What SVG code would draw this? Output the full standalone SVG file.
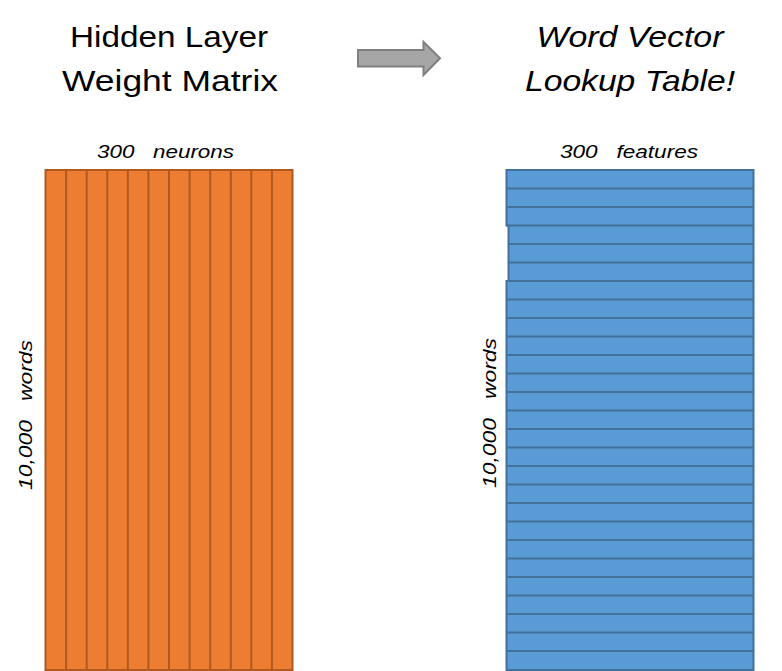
<svg xmlns="http://www.w3.org/2000/svg" width="782" height="671" viewBox="0 0 782 671">
<style>
.title{font-family:"Liberation Sans",Arial,sans-serif;font-size:30px;fill:#000;text-anchor:middle}
.it{font-style:italic}
.lbl{font-family:"Liberation Sans",Arial,sans-serif;font-size:18px;font-style:italic;fill:#000}
.org{fill:#ED7D31;stroke:#AE5A21;stroke-width:2}
.blu{fill:#5B9BD5;stroke:#41719C;stroke-width:2}
</style>
<rect width="782" height="671" fill="#fff"/>
<g id="title-left">
<text class="title" x="169" y="47" textLength="198" lengthAdjust="spacingAndGlyphs">Hidden Layer</text>
<text class="title" x="170" y="91" textLength="216" lengthAdjust="spacingAndGlyphs">Weight Matrix</text>
</g>
<g id="title-right">
<text class="title it" x="630" y="47" textLength="187" lengthAdjust="spacingAndGlyphs">Word Vector</text>
<text class="title it" x="630" y="91" textLength="210" lengthAdjust="spacingAndGlyphs">Lookup Table!</text>
</g>
<g id="arrow">
<polygon points="358,50 423.5,50 423.5,42 440,58.3 423.5,75 423.5,66.5 358,66.5" fill="#A6A6A6" stroke="#7F7F7F" stroke-width="2"/>
</g>
<g id="hidden-matrix">
<rect class="org" x="45.5" y="170" width="247" height="500"/>
<g stroke="#AE5A21" stroke-width="2">
<line x1="66.1" y1="170" x2="66.1" y2="670"/>
<line x1="86.7" y1="170" x2="86.7" y2="670"/>
<line x1="107.3" y1="170" x2="107.3" y2="670"/>
<line x1="127.8" y1="170" x2="127.8" y2="670"/>
<line x1="148.4" y1="170" x2="148.4" y2="670"/>
<line x1="169" y1="170" x2="169" y2="670"/>
<line x1="189.6" y1="170" x2="189.6" y2="670"/>
<line x1="210.2" y1="170" x2="210.2" y2="670"/>
<line x1="230.8" y1="170" x2="230.8" y2="670"/>
<line x1="251.3" y1="170" x2="251.3" y2="670"/>
<line x1="271.9" y1="170" x2="271.9" y2="670"/>
</g>
<text class="lbl" x="97" y="158" xml:space="preserve" textLength="137" lengthAdjust="spacingAndGlyphs">300   neurons</text>
<text class="lbl" transform="translate(32,490) rotate(-90)" xml:space="preserve" textLength="150" lengthAdjust="spacingAndGlyphs">10,000   words</text>
</g>
<g id="lookup-table">
<path class="blu" d="M506.5,170 H753.5 V670 H506.5 V281 H508.5 V225.5 H506.5 Z"/>
<g stroke="#41719C" stroke-width="2">
<line x1="506.5" y1="188.5" x2="753.5" y2="188.5"/>
<line x1="506.5" y1="207" x2="753.5" y2="207"/>
<line x1="506.5" y1="225.5" x2="753.5" y2="225.5"/>
<line x1="508.5" y1="244" x2="753.5" y2="244"/>
<line x1="508.5" y1="262.5" x2="753.5" y2="262.5"/>
<line x1="506.5" y1="281" x2="753.5" y2="281"/>
<line x1="506.5" y1="299.5" x2="753.5" y2="299.5"/>
<line x1="506.5" y1="318" x2="753.5" y2="318"/>
<line x1="506.5" y1="336.5" x2="753.5" y2="336.5"/>
<line x1="506.5" y1="355" x2="753.5" y2="355"/>
<line x1="506.5" y1="373.5" x2="753.5" y2="373.5"/>
<line x1="506.5" y1="392" x2="753.5" y2="392"/>
<line x1="506.5" y1="410.5" x2="753.5" y2="410.5"/>
<line x1="506.5" y1="429" x2="753.5" y2="429"/>
<line x1="506.5" y1="447.5" x2="753.5" y2="447.5"/>
<line x1="506.5" y1="466" x2="753.5" y2="466"/>
<line x1="506.5" y1="484.5" x2="753.5" y2="484.5"/>
<line x1="506.5" y1="503" x2="753.5" y2="503"/>
<line x1="506.5" y1="521.5" x2="753.5" y2="521.5"/>
<line x1="506.5" y1="540" x2="753.5" y2="540"/>
<line x1="506.5" y1="558.5" x2="753.5" y2="558.5"/>
<line x1="506.5" y1="577" x2="753.5" y2="577"/>
<line x1="506.5" y1="595.5" x2="753.5" y2="595.5"/>
<line x1="506.5" y1="614" x2="753.5" y2="614"/>
<line x1="506.5" y1="632.5" x2="753.5" y2="632.5"/>
<line x1="506.5" y1="651" x2="753.5" y2="651"/>
</g>
<text class="lbl" x="560" y="158" xml:space="preserve" textLength="138" lengthAdjust="spacingAndGlyphs">300   features</text>
<text class="lbl" transform="translate(496,488) rotate(-90)" xml:space="preserve" textLength="150" lengthAdjust="spacingAndGlyphs">10,000   words</text>
</g>
</svg>
